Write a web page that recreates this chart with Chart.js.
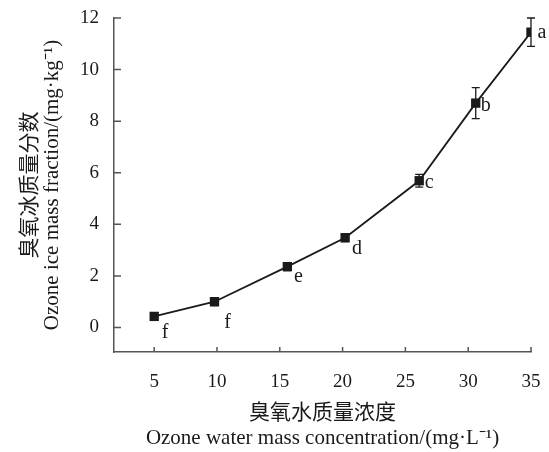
<!DOCTYPE html>
<html>
<head>
<meta charset="utf-8">
<script src="https://cdn.jsdelivr.net/npm/chart.js@4"></script>
<style>
  html, body { margin: 0; padding: 0; background: #fff; }
  #wrap { width: 549px; height: 452px; }
</style>
</head>
<body>
<div id="wrap"><canvas id="chartOzone"></canvas></div>
<script>
const concentration = [5, 9.8, 15.6, 20.2, 26.1, 30.6, 35];
const iceFraction = [0.43, 1.0, 2.36, 3.48, 5.69, 8.70, 11.45];
const errorBar = [0.08, 0.15, 0.15, 0.15, 0.25, 0.6, 0.55];
const letters = ['f', 'f', 'e', 'd', 'c', 'b', 'a'];
const xTicks = [5, 10, 15, 20, 25, 30, 35];
const yTicks = [0, 2, 4, 6, 8, 10, 12];

const serif = "'Liberation Serif', 'Noto Sans CJK SC', serif";
const ink = '#1a1a1a';

// inner tick marks, error bars and significance letters
const extras = {
    id: 'extras',
    beforeDatasetsDraw(chart) {
        const { ctx, scales: { x, y } } = chart;
        ctx.save();
        ctx.strokeStyle = '#555';
        ctx.lineWidth = 1.5;
        ctx.beginPath();
        xTicks.forEach(v => {
            const px = x.getPixelForValue(v);
            ctx.moveTo(px, y.bottom);
            ctx.lineTo(px, y.bottom - 5);
        });
        yTicks.forEach(v => {
            const py = y.getPixelForValue(v);
            ctx.moveTo(x.left, py);
            ctx.lineTo(x.left + 7, py);
        });
        ctx.stroke();

        ctx.strokeStyle = ink;
        ctx.lineWidth = 1.3;
        ctx.beginPath();
        concentration.forEach((c, i) => {
            const px = x.getPixelForValue(c);
            const top = y.getPixelForValue(iceFraction[i] + errorBar[i]);
            const bot = y.getPixelForValue(iceFraction[i] - errorBar[i]);
            ctx.moveTo(px, top); ctx.lineTo(px, bot);
            ctx.moveTo(px - 4, top); ctx.lineTo(px + 4, top);
            ctx.moveTo(px - 4, bot); ctx.lineTo(px + 4, bot);
        });
        ctx.stroke();
        ctx.restore();
    },
    afterDatasetsDraw(chart) {
        const { ctx, scales: { x, y } } = chart;
        const offsets = [[11, 16], [13, 21], [11, 10], [12, 11], [10, 2], [10, 3], [11, 1]];
        ctx.save();
        ctx.fillStyle = ink;
        ctx.font = '20px ' + serif;
        ctx.textAlign = 'center';
        ctx.textBaseline = 'middle';
        letters.forEach((t, i) => {
            const px = x.getPixelForValue(concentration[i]);
            const py = y.getPixelForValue(iceFraction[i]);
            ctx.fillText(t, px + offsets[i][0], py + offsets[i][1]);
        });
        ctx.restore();
    }
};

const chartOzone = new Chart("chartOzone", {
    type: "line",
    data: {
        labels: concentration,
        datasets: [{
            data: concentration.map((c, i) => ({ x: c, y: iceFraction[i] })),
            borderColor: ink,
            backgroundColor: ink,
            borderWidth: 1.8,
            pointStyle: 'rect',
            pointRadius: 6.6,
            pointBorderWidth: 0,
            tension: 0
        }]
    },
    options: {
        responsive: true,
        maintainAspectRatio: false,
        animation: false,
        layout: { padding: { top: 18, right: 18, left: 0, bottom: 0 } },
        plugins: {
            legend: { display: false },
            tooltip: { enabled: false }
        },
        scales: {
            x: {
                type: 'linear',
                min: 1.8,
                max: 35,
                afterBuildTicks: s => { s.ticks = xTicks.map(v => ({ value: v })); },
                afterFit: s => { s.height = 100; s.paddingLeft = 0; s.paddingRight = 0; },
                grid: { display: true, drawOnChartArea: false, drawTicks: false },
                border: { display: true, color: '#555', width: 1.5 },
                ticks: { color: ink, font: { family: serif, size: 19 }, padding: 19, maxRotation: 0 },
                title: {
                    display: true,
                    text: ['臭氧水质量浓度', 'Ozone water mass concentration/(mg·L⁻¹)'],
                    color: ink,
                    font: { family: serif, size: 21, lineHeight: 1.2 },
                    padding: { top: 0, bottom: 1 }
                }
            },
            y: {
                min: -0.95,
                max: 12,
                afterBuildTicks: s => { s.ticks = yTicks.map(v => ({ value: v })); },
                afterFit: s => { s.width = 114; s.paddingTop = 0; s.paddingBottom = 0; },
                grid: { display: true, drawOnChartArea: false, drawTicks: false },
                border: { display: true, color: '#555', width: 1.5 },
                ticks: { color: ink, font: { family: serif, size: 19 }, padding: 15 },
                title: {
                    display: true,
                    text: ['臭氧冰质量分数', 'Ozone ice mass fraction/(mg·kg⁻¹)'],
                    color: ink,
                    font: { family: serif, size: 21, lineHeight: 1.05 },
                    padding: { top: 19, bottom: 0 }
                }
            }
        }
    },
    plugins: [extras]
});
</script>
</body>
</html>
